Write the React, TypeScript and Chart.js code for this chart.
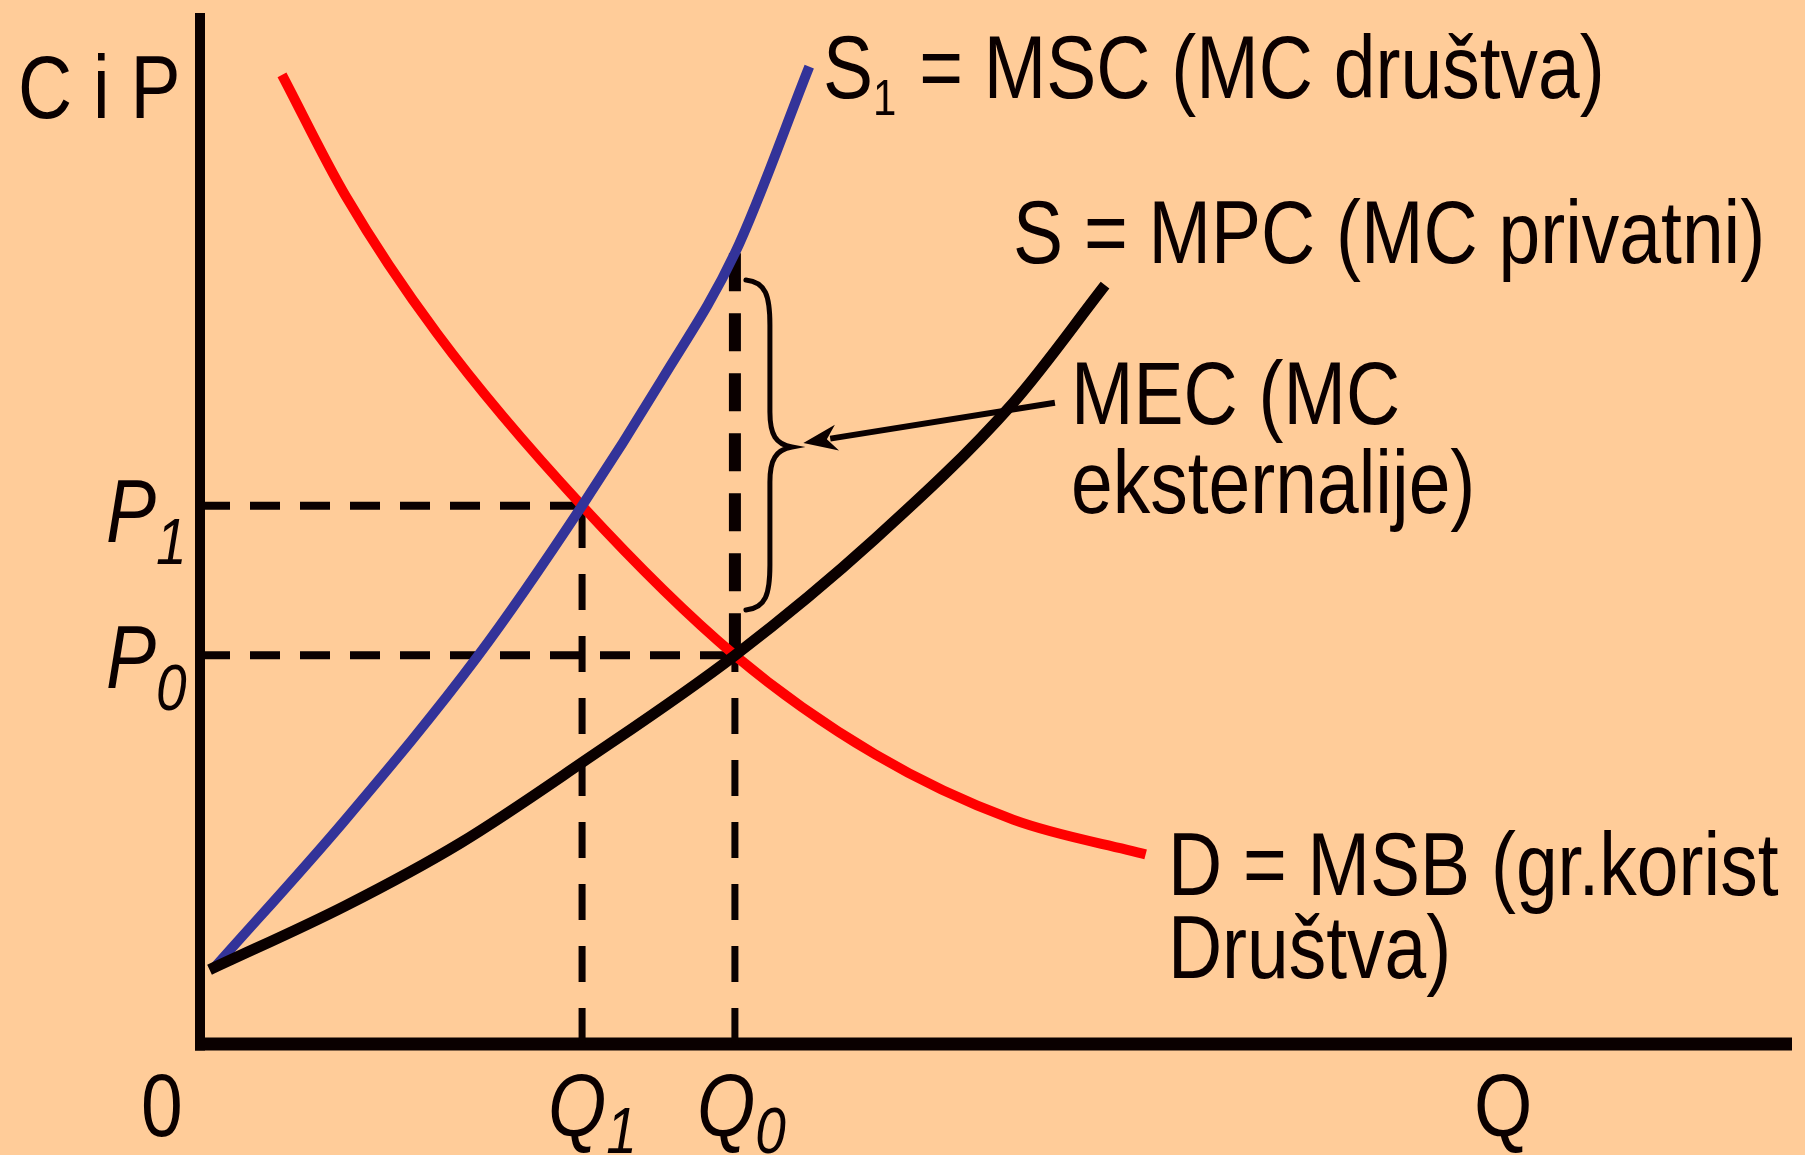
import React, { useEffect, useRef } from "react";
import { Chart, registerables } from "chart.js";

Chart.register(...registerables);

// ---- Data (chart units: quantity 0..100, price 0..100) ----
const msbQ = [5.15, 9.13, 14.9, 24.0, 33.6, 42.4, 51.07, 59.4];
const msbP = [94.0, 82.3, 68.9, 52.2, 37.7, 28.1, 21.76, 18.4];

const mscQ = [0.82, 9.13, 17.44, 24.0, 29.0, 33.6, 38.27];
const mscP = [7.27, 21.76, 37.6, 52.2, 64.4, 76.7, 94.8];

const mpcQ = [0.6, 9.13, 16.36, 24.0, 33.6, 42.4, 51.07, 56.85];
const mpcP = [7.2, 13.4, 19.5, 27.3, 37.7, 49.0, 62.17, 73.6];

const Q1 = 24.0;
const Q0 = 33.6;
const P1 = 52.2;
const P0 = 37.7;
const MSC_AT_Q0 = 76.7;

// brace (MEC span) and arrow, chart units
const braceSpan = [42.1, 74.1];
const braceTipP = 57.9;
const arrowFrom = [53.7, 62.2];
const arrowTo = [37.9, 58.3];

// Text labels: runs of [text, isSubscript], anchor (q, p)
type Run = [string, boolean];
const labelRuns: Run[][] = [
  [["C i P", false]],
  [["S", false], ["1", true], [" = MSC (MC društva)", false]],
  [["S = MPC (MC privatni)", false]],
  [["MEC (MC", false]],
  [["eksternalije)", false]],
  [["D = MSB (gr.korist", false]],
  [["Društva)", false]],
  [["P", false], ["1", true]],
  [["P", false], ["0", true]],
  [["0", false]],
  [["Q", false], ["1", true]],
  [["Q", false], ["0", true]],
  [["Q", false]],
];
const labelQ = [-11.43, 39.13, 51.07, 54.71, 54.71, 60.8, 60.8, -5.9, -5.9, -3.7, 21.86, 31.22, 80.03];
const labelP = [89.82, 91.76, 75.75, 60.14, 51.5, 14.45, 6.4, 48.69, 34.53, -8.92, -8.92, -8.92, -8.92];
const labelItalic = [false, false, false, false, false, false, false, true, true, false, true, true, false];

const BG = "#FFCC99";
const FONT = '"Liberation Sans", Arial, sans-serif';
const STRETCH = 1.19;

function pts(xs: number[], ys: number[]) {
  return xs.map((x, i) => ({ x, y: ys[i] }));
}

const econPlugin = {
  id: "econ",
  beforeDatasetsDraw(chart: any) {
    const ctx = chart.ctx;
    const xs = chart.scales.x;
    const ys = chart.scales.y;
    const x0 = xs.getPixelForValue(0);
    const y0 = ys.getPixelForValue(0);
    const xEnd = xs.getPixelForValue(100);
    const yTop = ys.getPixelForValue(100);
    ctx.save();
    ctx.strokeStyle = "#0a0000";
    ctx.lineCap = "butt";
    ctx.lineWidth = 10;
    ctx.beginPath();
    ctx.moveTo(x0, yTop);
    ctx.lineTo(x0, y0 + 6.5);
    ctx.stroke();
    ctx.lineWidth = 13;
    ctx.beginPath();
    ctx.moveTo(x0 - 5, y0);
    ctx.lineTo(xEnd, y0);
    ctx.stroke();
    ctx.restore();
  },
  afterDatasetsDraw(chart: any) {
    const ctx = chart.ctx;
    const xs = chart.scales.x;
    const ys = chart.scales.y;
    const px = (v: number) => xs.getPixelForValue(v);
    const py = (v: number) => ys.getPixelForValue(v);
    ctx.save();
    ctx.strokeStyle = "#0a0000";
    ctx.fillStyle = "#0a0000";

    // brace
    const bx = px(Q0) + 11;
    const top = py(braceSpan[1]);
    const bot = py(braceSpan[0]);
    const tipY = py(braceTipP);
    const mid = bx + 24;
    const tip = bx + 46;
    ctx.lineWidth = 5;
    ctx.lineCap = "round";
    ctx.beginPath();
    ctx.moveTo(bx, top);
    ctx.bezierCurveTo(mid - 4, top + 2, mid, top + 16, mid, top + 45);
    ctx.lineTo(mid, tipY - 35);
    ctx.bezierCurveTo(mid, tipY - 12, mid + 6, tipY - 3, tip, tipY);
    ctx.bezierCurveTo(mid + 6, tipY + 3, mid, tipY + 12, mid, tipY + 35);
    ctx.lineTo(mid, bot - 45);
    ctx.bezierCurveTo(mid, bot - 16, mid - 4, bot - 2, bx, bot);
    ctx.stroke();

    // arrow
    const ax1 = px(arrowFrom[0]);
    const ay1 = py(arrowFrom[1]);
    const ax2 = px(arrowTo[0]);
    const ay2 = py(arrowTo[1]);
    const ang = Math.atan2(ay2 - ay1, ax2 - ax1);
    const headLen = 34;
    const headW = 13;
    ctx.lineCap = "butt";
    ctx.lineWidth = 6;
    ctx.beginPath();
    ctx.moveTo(ax1, ay1);
    ctx.lineTo(ax2 - Math.cos(ang) * headLen * 0.8, ay2 - Math.sin(ang) * headLen * 0.8);
    ctx.stroke();
    ctx.beginPath();
    ctx.moveTo(ax2, ay2);
    const bxh = ax2 - Math.cos(ang) * headLen;
    const byh = ay2 - Math.sin(ang) * headLen;
    ctx.lineTo(bxh + Math.sin(ang) * headW, byh - Math.cos(ang) * headW);
    ctx.lineTo(ax2 - Math.cos(ang) * headLen * 0.7, ay2 - Math.sin(ang) * headLen * 0.7);
    ctx.lineTo(bxh - Math.sin(ang) * headW, byh + Math.cos(ang) * headW);
    ctx.closePath();
    ctx.fill();

    // labels
    ctx.textBaseline = "alphabetic";
    ctx.textAlign = "left";
    labelRuns.forEach((runs, i) => {
      let x = px(labelQ[i]);
      const y = py(labelP[i]);
      const it = labelItalic[i] ? "italic " : "";
      runs.forEach(([t, sub]) => {
        let size = 75;
        let dy = 0;
        if (sub) {
          if (labelItalic[i]) {
            size = 55;
            dy = i >= 10 ? 17 : 22;
          } else {
            size = 42;
            dy = 17;
          }
        }
        ctx.font = `${it}${size}px ${FONT}`;
        ctx.save();
        ctx.translate(x, y + dy);
        ctx.scale(1, STRETCH);
        ctx.fillText(t, 0, 0);
        ctx.restore();
        x += ctx.measureText(t).width + (sub ? 2 : 0);
      });
    });
    ctx.restore();
  },
};

export default function App() {
  const ref = useRef<HTMLCanvasElement | null>(null);
  useEffect(() => {
    if (!ref.current) return;
    const dashH = [30, 20];
    const dashV = [36, 26];
    const curve = {
      showLine: true,
      pointRadius: 0,
      cubicInterpolationMode: "monotone",
      clip: false,
    };
    const chart = new Chart(ref.current, {
      type: "scatter",
      data: {
        datasets: [
          {
            ...curve,
            label: "S = MPC",
            data: pts(mpcQ, mpcP),
            borderColor: "#0a0000",
            borderWidth: 11,
            order: 1,
          },
          {
            ...curve,
            label: "D = MSB",
            data: pts(msbQ, msbP),
            borderColor: "#FF0000",
            borderWidth: 10,
            order: 3,
          },
          {
            ...curve,
            label: "S1 = MSC",
            data: pts(mscQ, mscP),
            borderColor: "#333399",
            borderWidth: 10,
            order: 2,
          },
          {
            label: "P1",
            data: [
              { x: 0, y: P1 },
              { x: Q1, y: P1 },
            ],
            showLine: true,
            borderColor: "#0a0000",
            borderWidth: 8,
            borderDash: dashH,
            pointRadius: 0,
            clip: false,
            order: 5,
          },
          {
            label: "Q1",
            data: [
              { x: Q1, y: 0 },
              { x: Q1, y: P1 },
            ],
            showLine: true,
            borderColor: "#0a0000",
            borderWidth: 7,
            borderDash: dashV,
            pointRadius: 0,
            clip: false,
            order: 5,
          },
          {
            label: "P0",
            data: [
              { x: 0, y: P0 },
              { x: Q0, y: P0 },
            ],
            showLine: true,
            borderColor: "#0a0000",
            borderWidth: 8,
            borderDash: dashH,
            pointRadius: 0,
            clip: false,
            order: 5,
          },
          {
            label: "Q0",
            data: [
              { x: Q0, y: 0 },
              { x: Q0, y: P0 },
            ],
            showLine: true,
            borderColor: "#0a0000",
            borderWidth: 7,
            borderDash: dashV,
            pointRadius: 0,
            clip: false,
            order: 5,
          },
          {
            label: "MEC",
            data: [
              { x: Q0, y: MSC_AT_Q0 },
              { x: Q0, y: P0 },
            ],
            showLine: true,
            borderColor: "#0a0000",
            borderWidth: 12,
            borderDash: [38, 22],
            pointRadius: 0,
            clip: false,
            order: 4,
          },
        ],
      },
      options: {
        responsive: false,
        maintainAspectRatio: false,
        animation: false,
        layout: { padding: { left: 200, right: 13, top: 13, bottom: 111 } },
        scales: {
          x: { type: "linear", min: 0, max: 100, display: false },
          y: { type: "linear", min: 0, max: 100, display: false },
        },
        plugins: {
          legend: { display: false },
          tooltip: { enabled: false },
        },
        events: [],
      },
      plugins: [econPlugin],
    } as any);
    return () => chart.destroy();
  }, []);

  return (
    <div
      style={{
        position: "fixed",
        left: 0,
        top: 0,
        width: 1805,
        height: 1155,
        background: BG,
      }}
    >
      <canvas ref={ref} width={1805} height={1155} style={{ display: "block" }} />
    </div>
  );
}
